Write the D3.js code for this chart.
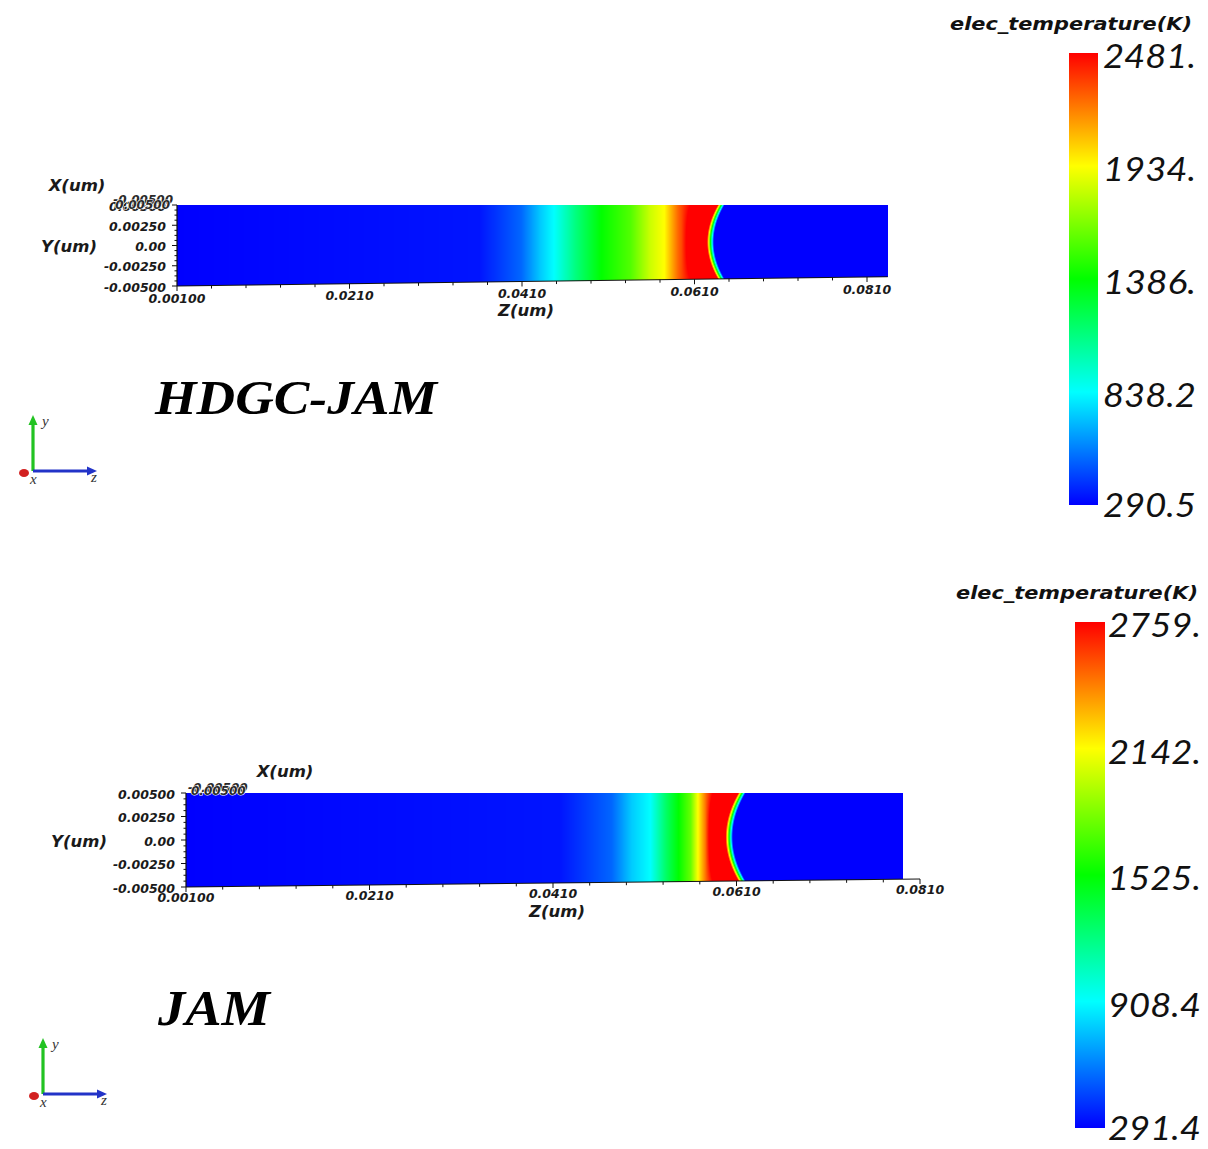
<!DOCTYPE html>
<html>
<head>
<meta charset="utf-8">
<script src="https://cdn.jsdelivr.net/npm/d3@7"></script>
<style>
  html, body { margin: 0; padding: 0; background: #ffffff; }
  svg { display: block; }
</style>
</head>
<body>
<svg id="chart" width="1208" height="1149"></svg>
<script>
// ---- shared axis annotations (lengths in um) ----
const zTickValues = [0.001, 0.021, 0.041, 0.061, 0.081];
const zTickLabels = ["0.00100", "0.0210", "0.0410", "0.0610", "0.0810"];
const yTickValues = [0.005, 0.0025, 0, -0.0025, -0.005];
const yTickLabels = ["0.00500", "0.00250", "0.00", "-0.00250", "-0.00500"];
const xEdgeLabels = ["-0.00500", "0.00500"];
const halfWidth = 0.005;

// rainbow colour map, blue (cold) to red (hot)
const colorStops = ["#0000ff", "#00ffff", "#00ff00", "#ffff00", "#ff0000"];

// ---- HDGC-JAM: electron temperature along the channel ----
const hdgcRange = [290.5, 2481];
const hdgcLegendLabels = ["2481.", "1934.", "1386.", "838.2", "290.5"];
const hdgcProfileZ = [0.0010, 0.0361, 0.0409, 0.0432, 0.0447, 0.0473, 0.0502, 0.0536, 0.0559, 0.0575, 0.0591, 0.0605, 0.0637, 0.0645, 0.0834];
const hdgcProfileT = [290.5, 334, 510, 729, 838.2, 1123, 1386, 1561, 1824, 1934, 2262, 2481, 2481, 290.5, 290.5];
const hdgcFrontRamp = [0.0595, 0.0609];   // where the hot front starts to bow
const hdgcFrontBow = 0.00125;              // lag of the front at the centre line
const hdgcLength = 0.0834;

// ---- JAM: electron temperature along the channel ----
const jamRange = [291.4, 2759];
const jamLegendLabels = ["2759.", "2142.", "1525.", "908.4", "291.4"];
const jamProfileZ = [0.0010, 0.0418, 0.0474, 0.0496, 0.0516, 0.0533, 0.0547, 0.0560, 0.0568, 0.0577, 0.0584, 0.0612, 0.0620, 0.0791];
const jamProfileT = [291.4, 341, 538, 785, 908.4, 1278, 1525, 1772, 2142, 2512, 2759, 2759, 291.4, 291.4];
const jamFrontRamp = [0.0576, 0.0590];
const jamFrontBow = 0.0014;
const jamLength = 0.0791;

// ---- layout of the two views ----
const panels = [
  {
    title: "HDGC-JAM", titlePos: [155, 414], titleSize: 48, titleLen: 282,
    range: hdgcRange, legend: hdgcLegendLabels,
    profileZ: hdgcProfileZ, profileT: hdgcProfileT,
    frontRamp: hdgcFrontRamp, frontBow: hdgcFrontBow, zEnd: hdgcLength,
    zPx: [177, 867], topPx: 205, bottomPx: [286, 277], axisEnd: hdgcLength,
    zLabelDy: 13, zTitleDy: 30,
    yLabelX: 166, yTitleX: 97, xTitle: [77, 186],
    xEdge: { anchor: "end", x: 173, y: [200, 205] },
    bar: { x: 1069, w: 29, top: 53, bottom: 505, labelX: 1103, titleY: 25, titleX: 1071 },
    triad: { ox: 33, oy: 471 }
  },
  {
    title: "JAM", titlePos: [158, 1025], titleSize: 50, titleLen: 112,
    range: jamRange, legend: jamLegendLabels,
    profileZ: jamProfileZ, profileT: jamProfileT,
    frontRamp: jamFrontRamp, frontBow: jamFrontBow, zEnd: jamLength,
    zPx: [186, 920], topPx: 793, bottomPx: [887, 879], axisEnd: 0.081,
    zLabelDy: 11, zTitleDy: 29,
    yLabelX: 175, yTitleX: 107, xTitle: [285, 772],
    xEdge: { anchor: "start", x: 188, y: [788, 791] },
    bar: { x: 1075, w: 30, top: 622, bottom: 1128, labelX: 1108, titleY: 594, titleX: 1077 },
    triad: { ox: 43, oy: 1094 }
  }
];

const svg = d3.select("#chart");
const defs = svg.append("defs");

const tickFont = "'DejaVu Sans', 'Liberation Sans', sans-serif";

panels.forEach((p, idx) => {
  const g = svg.append("g");
  const [tMin, tMax] = p.range;
  const zMin = zTickValues[0];

  const zScale = d3.scaleLinear().domain([zMin, zTickValues[zTickValues.length - 1]]).range(p.zPx);
  const bottomEdge = d3.scaleLinear().domain([zMin, 0.081]).range(p.bottomPx);
  const yScaleAt = z => d3.scaleLinear().domain([-halfWidth, halfWidth]).range([bottomEdge(z), p.topPx]);

  const colorDomain = d3.range(colorStops.length).map(i => tMin + i * (tMax - tMin) / (colorStops.length - 1));
  const color = d3.scaleLinear().domain(colorDomain).range(colorStops).clamp(true);
  const tempAt = d3.scaleLinear().domain(p.profileZ).range(p.profileT).clamp(true);
  const ramp = d3.scaleLinear().domain(p.frontRamp).range([0, 1]).clamp(true);

  // ---- temperature field, rasterised pixel by pixel ----
  const x0 = Math.floor(zScale(zMin));
  const x1 = Math.ceil(zScale(p.zEnd));
  const y0 = Math.floor(p.topPx);
  const y1 = Math.ceil(bottomEdge(zMin));
  const w = x1 - x0, h = y1 - y0;
  const canvas = document.createElement("canvas");
  canvas.width = w; canvas.height = h;
  const ctx = canvas.getContext("2d");
  const img = ctx.createImageData(w, h);
  for (let i = 0; i < w; i++) {
    const z = zScale.invert(x0 + i + 0.5);
    if (z < zMin || z > p.zEnd) continue;
    const ys = yScaleAt(z);
    for (let j = 0; j < h; j++) {
      const py = y0 + j + 0.5;
      const yv = ys.invert(py);
      if (yv < -halfWidth || yv > halfWidth) continue;
      const r = yv / halfWidth;
      const zEff = z + p.frontBow * (1 - r * r) * ramp(z);
      const c = d3.rgb(color(tempAt(zEff)));
      const k = (j * w + i) * 4;
      img.data[k] = c.r; img.data[k + 1] = c.g; img.data[k + 2] = c.b; img.data[k + 3] = 255;
    }
  }
  ctx.putImageData(img, 0, 0);
  g.append("image")
    .attr("x", x0).attr("y", y0).attr("width", w).attr("height", h)
    .attr("href", canvas.toDataURL());

  const labelStyle = sel => sel
    .attr("font-family", tickFont).attr("font-weight", "bold").attr("font-style", "italic")
    .attr("fill", "#1a1a1a");

  // ---- Y axis on the inlet edge ----
  const yLeft = yScaleAt(zMin);
  const xl = zScale(zMin);
  g.append("line")
    .attr("x1", xl).attr("x2", xl)
    .attr("y1", yLeft(-halfWidth)).attr("y2", yLeft(halfWidth))
    .attr("stroke", "#111").attr("stroke-width", 1.2);
  const yMinor = d3.range(-halfWidth, halfWidth + 1e-9, halfWidth / 8);
  g.selectAll(".ytick").data(yMinor).join("line")
    .attr("x1", xl).attr("x2", (d, i) => xl - (i % 4 === 0 ? 5 : 2.5))
    .attr("y1", d => yLeft(d)).attr("y2", d => yLeft(d))
    .attr("stroke", "#111").attr("stroke-width", 1);
  g.selectAll(".ylab").data(yTickValues).join("text")
    .attr("x", p.yLabelX)
    .attr("y", d => yLeft(d) + 2)
    .attr("dominant-baseline", "middle")
    .attr("text-anchor", "end")
    .call(labelStyle).attr("font-size", 12.5)
    .text((d, i) => yTickLabels[i]);
  g.append("text")
    .attr("x", p.yTitleX).attr("y", yLeft(0) + 2)
    .attr("dominant-baseline", "middle").attr("text-anchor", "end")
    .call(labelStyle).attr("font-size", 16.5)
    .text("Y(um)");

  // ---- X axis seen edge-on: its two labels pile up at the corner ----
  g.selectAll(".xlab").data(xEdgeLabels).join("text")
    .attr("x", (d, i) => p.xEdge.x + (p.xEdge.anchor === "end" ? i * -3 : i * 3))
    .attr("y", (d, i) => p.xEdge.y[i])
    .attr("dominant-baseline", "middle")
    .attr("text-anchor", p.xEdge.anchor)
    .call(labelStyle).attr("font-size", 12)
    .attr("fill", "#2a2a2a").attr("stroke", "#ffffff").attr("stroke-width", 1.2).attr("paint-order", "stroke")
    .text(d => d);
  g.append("text")
    .attr("x", p.xTitle[0]).attr("y", p.xTitle[1])
    .attr("dominant-baseline", "middle").attr("text-anchor", "middle")
    .call(labelStyle).attr("font-size", 16.5)
    .text("X(um)");

  // ---- Z axis along the lower edge ----
  const zAxisEnd = p.axisEnd;
  g.append("line")
    .attr("x1", zScale(zMin)).attr("y1", bottomEdge(zMin))
    .attr("x2", zScale(zAxisEnd)).attr("y2", bottomEdge(zAxisEnd))
    .attr("stroke", "#111").attr("stroke-width", 1);
  const zMinor = d3.range(zMin, zAxisEnd + 1e-9, 0.004);
  g.selectAll(".ztick").data(zMinor).join("line")
    .attr("x1", d => zScale(d)).attr("x2", d => zScale(d))
    .attr("y1", d => bottomEdge(d))
    .attr("y2", (d, i) => bottomEdge(d) + (i % 5 === 0 ? 5 : 3))
    .attr("stroke", "#111").attr("stroke-width", 1);
  g.selectAll(".zlab").data(zTickValues).join("text")
    .attr("x", d => zScale(d))
    .attr("y", d => bottomEdge(d) + p.zLabelDy)
    .attr("dominant-baseline", "middle").attr("text-anchor", "middle")
    .call(labelStyle).attr("font-size", 12.5)
    .text((d, i) => zTickLabels[i]);
  g.append("text")
    .attr("x", zScale(0.041) + 4).attr("y", bottomEdge(0.041) + p.zTitleDy)
    .attr("dominant-baseline", "middle").attr("text-anchor", "middle")
    .call(labelStyle).attr("font-size", 16.5)
    .text("Z(um)");

  // ---- case title ----
  g.append("text")
    .attr("x", p.titlePos[0]).attr("y", p.titlePos[1])
    .attr("font-family", "'Liberation Serif', 'Times New Roman', serif")
    .attr("font-size", p.titleSize).attr("font-weight", "bold").attr("font-style", "italic")
    .attr("textLength", p.titleLen).attr("lengthAdjust", "spacingAndGlyphs")
    .attr("fill", "#000")
    .text(p.title);

  // ---- colour legend ----
  const gradId = "ramp" + idx;
  const grad = defs.append("linearGradient").attr("id", gradId)
    .attr("x1", 0).attr("y1", 1).attr("x2", 0).attr("y2", 0);
  grad.selectAll("stop").data(colorStops).join("stop")
    .attr("offset", (d, i) => i / (colorStops.length - 1))
    .attr("stop-color", d => d);
  const barScale = d3.scaleLinear().domain([tMin, tMax]).range([p.bar.bottom, p.bar.top]);
  g.append("rect")
    .attr("x", p.bar.x).attr("y", barScale(tMax))
    .attr("width", p.bar.w).attr("height", barScale(tMin) - barScale(tMax))
    .attr("fill", `url(#${gradId})`);
  g.selectAll(".blab").data(p.legend).join("text")
    .attr("x", p.bar.labelX)
    .attr("y", (d, i) => barScale(parseFloat(d)) + (i === p.legend.length - 1 ? 4 : 7))
    .attr("dominant-baseline", "middle")
    .attr("font-family", "Lato, 'Open Sans', 'DejaVu Sans', sans-serif")
    .attr("font-size", 32).attr("font-weight", 400).attr("font-style", "italic")
    .attr("textLength", 93).attr("lengthAdjust", "spacingAndGlyphs")
    .attr("fill", "#111")
    .text(d => d);
  g.append("text")
    .attr("x", p.bar.titleX).attr("y", p.bar.titleY)
    .attr("dominant-baseline", "middle").attr("text-anchor", "middle")
    .attr("font-family", tickFont).attr("font-size", 17).attr("font-weight", "bold").attr("font-style", "italic")
    .attr("textLength", 242).attr("lengthAdjust", "spacingAndGlyphs")
    .attr("fill", "#111")
    .text("elec_temperature(K)");

  // ---- orientation triad ----
  const t = p.triad;
  const tg = g.append("g");
  tg.append("line").attr("x1", t.ox).attr("y1", t.oy).attr("x2", t.ox).attr("y2", t.oy - 48)
    .attr("stroke", "#22c322").attr("stroke-width", 3.2);
  tg.append("path")
    .attr("d", `M${t.ox - 4.5},${t.oy - 46} L${t.ox},${t.oy - 56} L${t.ox + 4.5},${t.oy - 46} Z`)
    .attr("fill", "#22c322");
  tg.append("line").attr("x1", t.ox).attr("y1", t.oy).attr("x2", t.ox + 56).attr("y2", t.oy)
    .attr("stroke", "#2233c8").attr("stroke-width", 3.2);
  tg.append("path")
    .attr("d", `M${t.ox + 54},${t.oy - 4.5} L${t.ox + 64},${t.oy} L${t.ox + 54},${t.oy + 4.5} Z`)
    .attr("fill", "#2233c8");
  tg.append("ellipse").attr("cx", t.ox - 9).attr("cy", t.oy + 2).attr("rx", 5).attr("ry", 4)
    .attr("fill", "#d22020");
  const triadFont = "'Liberation Serif', 'Times New Roman', serif";
  [["y", t.ox + 9, t.oy - 48], ["z", t.ox + 58, t.oy + 8], ["x", t.ox - 3, t.oy + 10]].forEach(([s, x, y]) => {
    tg.append("text").attr("x", x).attr("y", y)
      .attr("dominant-baseline", "middle")
      .attr("font-family", triadFont).attr("font-size", 15).attr("font-style", "italic")
      .attr("fill", "#333")
      .text(s);
  });
});
</script>
</body>
</html>
